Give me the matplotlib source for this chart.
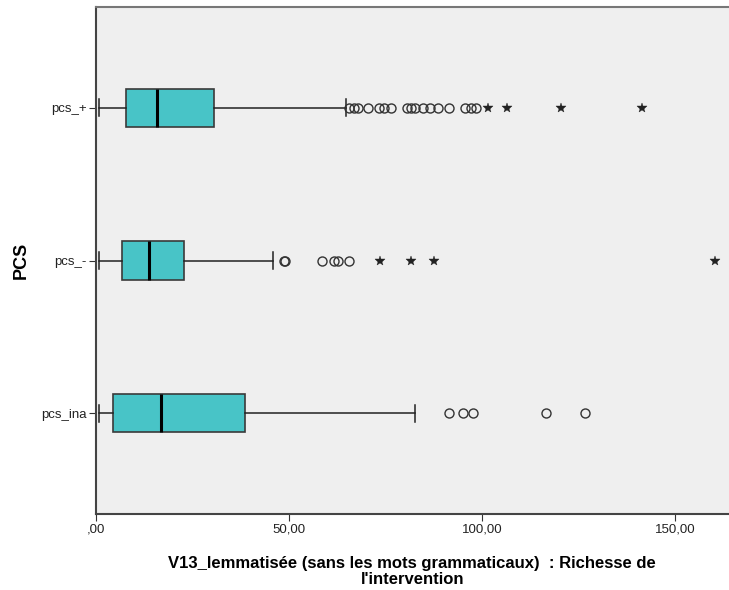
# -*- coding: utf-8 -*-
# Boxplot SPSS : V13_lemmatisée par PCS
import matplotlib
matplotlib.use('Agg')
import matplotlib.pyplot as plt

plt.rcParams['font.family'] = ['Liberation Sans', 'DejaVu Sans']

groupes = ['pcs_ina', 'pcs_-', 'pcs_+']

# stats (bas -> haut)
q1 = [4.5, 6.9, 7.8]
mediane = [16.9, 13.9, 15.9]
q3 = [38.8, 22.8, 30.8]
moust_bas = [1.0, 1.0, 1.0]
moust_haut = [82.7, 46.0, 64.9]

# valeurs atypiques (cercles) et extrêmes (étoiles)
atyp_ina = [91.6, 95.1, 97.7, 116.6, 126.6]
atyp_moins = [48.8, 49.1, 58.7, 61.8, 62.9, 65.6]
atyp_plus = [65.6, 66.9, 68.0, 70.6, 73.4, 74.7, 76.4, 80.7, 81.6, 82.7,
             84.8, 86.7, 88.7, 91.5, 95.6, 97.1, 98.5]
extr_ina = []
extr_moins = [73.6, 81.7, 87.6, 160.4]
extr_plus = [101.6, 106.6, 120.6, 141.6]

atyp = [atyp_ina, atyp_moins, atyp_plus]
extr = [extr_ina, extr_moins, extr_plus]

fig = plt.figure(figsize=(7.29, 5.9), dpi=100)
ax = fig.add_axes([95.5/729, 76/590, (729-95.5)/729, 507/590])
ax.set_facecolor('#efefef')

stats = []
for i in range(3):
    stats.append(dict(med=mediane[i], q1=q1[i], q3=q3[i],
                      whislo=moust_bas[i], whishi=moust_haut[i], fliers=[]))

ax.bxp(stats, positions=range(3), orientation='horizontal', widths=0.25,
       patch_artist=True, showfliers=False,
       boxprops=dict(facecolor='#48c4c7', edgecolor='#3a3a3a', linewidth=1.2),
       medianprops=dict(color='black', linewidth=2.2),
       whiskerprops=dict(color='#222222', linewidth=1.1),
       capprops=dict(color='#222222', linewidth=1.1), capwidths=0.11)

for i in range(3):
    ax.plot(atyp[i], [i]*len(atyp[i]), 'o', mfc='none', mec='#333333',
            ms=6.5, mew=1.0, ls='none')
    ax.plot(extr[i], [i]*len(extr[i]), '*', color='#222222', ms=7,
            mew=0.3, ls='none')

ax.set_xlim(0, 164)
ax.set_ylim(-0.66, 2.66)
ax.set_yticks(range(3))
ax.set_yticklabels(groupes, fontsize=9.5, color='#222222')
ax.set_xticks([0, 50, 100, 150])
ax.set_xticklabels([',00', '50,00', '100,00', '150,00'], fontsize=9.5,
                   color='#222222')
ax.tick_params(axis='both', length=5, color='#333333', pad=1.5)

for s in ['left', 'bottom']:
    ax.spines[s].set_color('#444444')
    ax.spines[s].set_linewidth(1.5)
ax.spines['top'].set_color('#777777')
ax.spines['top'].set_linewidth(1.5)
ax.spines['right'].set_visible(False)

ax.set_xlabel("V13_lemmatisée (sans les mots grammaticaux)  : Richesse de\nl'intervention",
              fontsize=12, fontweight='bold', linespacing=1.1, labelpad=15)
ax.set_ylabel('PCS', fontsize=13, fontweight='bold', labelpad=8)

fig.savefig('out.png', dpi=100)
